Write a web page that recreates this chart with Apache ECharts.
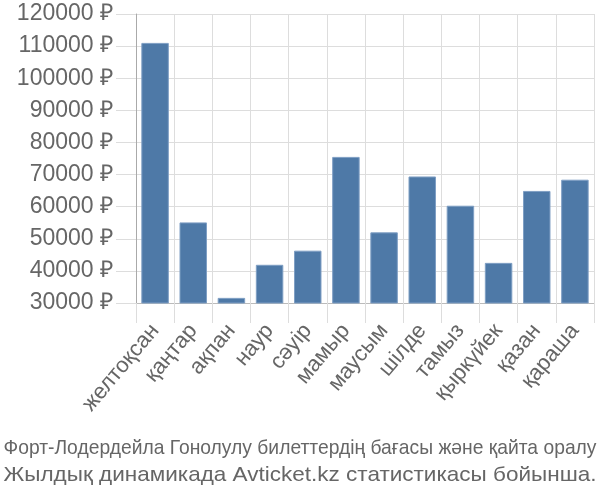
<!DOCTYPE html>
<html><head><meta charset="utf-8">
<script src="https://cdn.jsdelivr.net/npm/echarts@6/dist/echarts.min.js"></script>
<style>html,body{margin:0;padding:0;background:#fff}#c{width:600px;height:500px}</style>
</head><body><div id="c"></div>
<script>
const categories = ['желтоқсан','қаңтар','ақпан','наур','сәуір','мамыр','маусым','шілде','тамыз','қыркүйек','қазан','қараша'];
const prices = [111000, 55100, 31600, 41900, 46300, 75500, 52000, 69400, 60300, 42500, 64900, 68400];
const yMin = 30000, yMax = 120000, yStep = 10000;
const captionLines = ['Форт-Лодердейла Гонолулу билеттердің бағасы және қайта оралу', 'Жылдық динамикада Avticket.kz статистикасы бойынша.'];

const capFont = 21, capFamily = 'Liberation Sans, Arial';
const ctx = document.createElement('canvas').getContext('2d');
ctx.font = capFont + 'px ' + capFamily;
const fitW = 593;
const capY = [448, 475];

const chart = echarts.init(document.getElementById('c'));
chart.setOption({
  animation: false,
  grid: {left: 136, right: 6, top: 14, bottom: 197},
  xAxis: {
    type: 'category', data: categories,
    axisLine: {lineStyle: {color: '#bbb', width: 1}},
    axisTick: {show: true, length: 20, lineStyle: {color: '#ddd', width: 1}},
    splitLine: {show: true, lineStyle: {color: '#ddd', width: 1}},
    axisLabel: {rotate: 50, color: '#666', fontSize: 22, fontFamily: 'Liberation Sans, Arial', margin: 24, interval: 0}
  },
  yAxis: {
    type: 'value', min: yMin, max: yMax, interval: yStep,
    axisLine: {show: true, lineStyle: {color: '#aaa', width: 1}},
    axisTick: {show: true, length: 20, lineStyle: {color: '#ddd', width: 1}},
    splitLine: {show: true, lineStyle: {color: '#ddd', width: 1}},
    axisLabel: {color: '#666', fontSize: 23, fontFamily: 'Liberation Sans, Arial', margin: 23, formatter: v => v + ' ₽'}
  },
  series: [{
    type: 'bar', data: prices, barCategoryGap: '28%',
    itemStyle: {color: '#4e79a7', borderColor: '#7f9fc4', borderWidth: 1}
  }],
  graphic: captionLines.map((t, i) => ({
    type: 'text', x: 300, y: capY[i], scaleX: fitW / ctx.measureText(t).width,
    style: {text: t, fill: '#666', fontSize: capFont, fontFamily: capFamily, align: 'center', verticalAlign: 'middle'}
  }))
});
</script></body></html>
